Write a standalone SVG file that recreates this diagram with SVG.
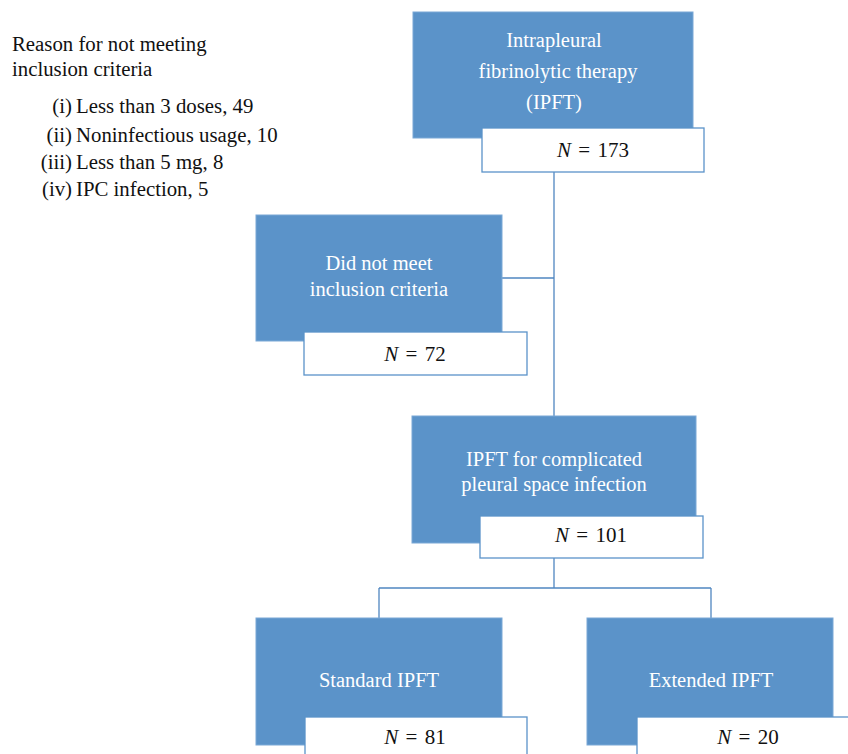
<svg xmlns="http://www.w3.org/2000/svg" width="848" height="754" viewBox="0 0 848 754">
<style>
.blue{fill:#5b93c9;stroke:#7aa8d6;stroke-width:1}
.white{fill:#ffffff;stroke:#5b93c9;stroke-width:1.3}
.bt{font-family:"Liberation Serif","Times New Roman",serif;font-size:20.5px;fill:#ffffff;text-anchor:middle}
.nt{font-family:"Liberation Serif","Times New Roman",serif;font-size:21px;fill:#111111;text-anchor:middle;word-spacing:2px}
.lt{font-family:"Liberation Serif","Times New Roman",serif;font-size:20.8px;fill:#111111}
.lbl{text-anchor:end}
.conn{stroke:#4f86c0;stroke-width:1.3;fill:none}
</style>
<g id="connectors">
<path class="conn" d="M554 172 V416"/>
<path class="conn" d="M502 278 H554"/>
<path class="conn" d="M554 558 V588"/>
<path class="conn" d="M379 588 H711"/>
<path class="conn" d="M379 588 V618"/>
<path class="conn" d="M711 588 V618"/>
</g>
<g id="legend">
<text class="lt" x="12" y="51">Reason for not meeting</text>
<text class="lt" x="12" y="76">inclusion criteria</text>
<text class="lt lbl" x="72" y="113">(i)</text><text class="lt" x="76" y="113">Less than 3 doses, 49</text>
<text class="lt lbl" x="72" y="142">(ii)</text><text class="lt" x="76" y="142">Noninfectious usage, 10</text>
<text class="lt lbl" x="72" y="169">(iii)</text><text class="lt" x="76" y="169">Less than 5 mg, 8</text>
<text class="lt lbl" x="72" y="196">(iv)</text><text class="lt" x="76" y="196">IPC infection, 5</text>
</g>
<g id="ipft">
<rect class="blue" x="413" y="12" width="280" height="126"/>
<text class="bt" x="554" y="47">Intrapleural</text>
<text class="bt" x="558" y="78">fibrinolytic therapy</text>
<text class="bt" x="554" y="109">(IPFT)</text>
<rect class="white" x="482" y="128" width="222" height="44"/>
<text class="nt" x="593" y="157"><tspan font-style="italic">N</tspan> = 173</text>
</g>
<g id="excluded">
<rect class="blue" x="256" y="215" width="246" height="126"/>
<text class="bt" x="379" y="270">Did not meet</text>
<text class="bt" x="379" y="296">inclusion criteria</text>
<rect class="white" x="304" y="332" width="223" height="43"/>
<text class="nt" x="415" y="361"><tspan font-style="italic">N</tspan> = 72</text>
</g>
<g id="complicated">
<rect class="blue" x="412" y="416" width="284" height="127"/>
<text class="bt" x="554" y="466">IPFT for complicated</text>
<text class="bt" x="554" y="491">pleural space infection</text>
<rect class="white" x="480" y="516" width="223" height="42"/>
<text class="nt" x="591" y="542"><tspan font-style="italic">N</tspan> = 101</text>
</g>
<g id="standard">
<rect class="blue" x="256" y="618" width="246" height="127"/>
<text class="bt" x="379" y="687">Standard IPFT</text>
<rect class="white" x="305" y="717" width="222" height="50"/>
<text class="nt" x="415" y="744"><tspan font-style="italic">N</tspan> = 81</text>
</g>
<g id="extended">
<rect class="blue" x="587" y="618" width="246" height="127"/>
<text class="bt" x="711" y="687">Extended IPFT</text>
<rect class="white" x="637" y="717" width="222" height="50"/>
<text class="nt" x="748" y="744"><tspan font-style="italic">N</tspan> = 20</text>
</g>
</svg>
